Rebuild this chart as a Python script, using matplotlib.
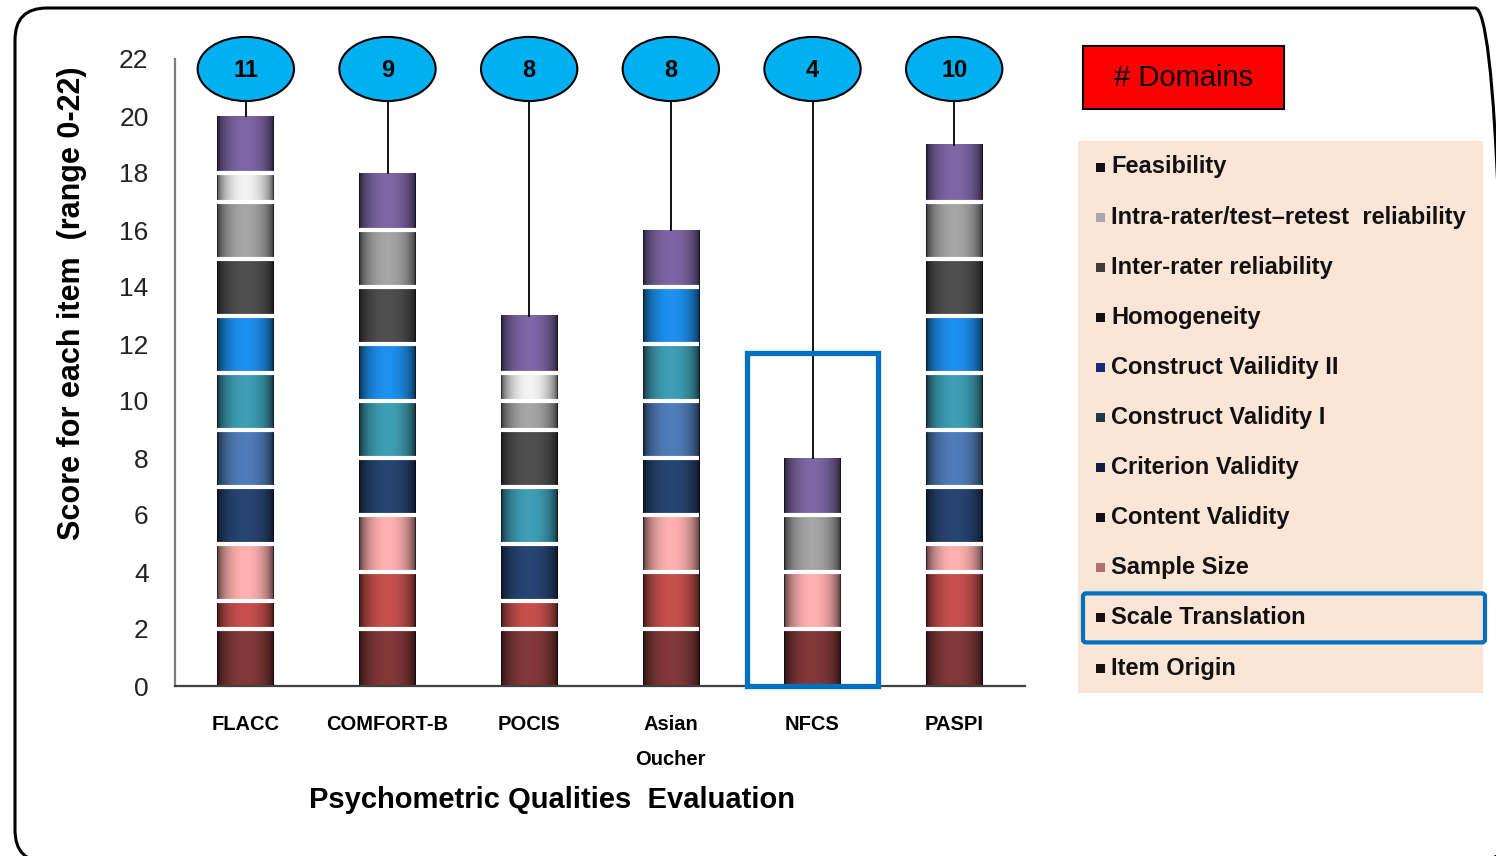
import numpy as np
import matplotlib
matplotlib.use("Agg")
import matplotlib.pyplot as plt
from matplotlib.patches import Ellipse, Rectangle, FancyBboxPatch

ARIAL = ["Liberation Sans", "DejaVu Sans"]

scales = ["FLACC", "COMFORT-B", "POCIS", "Asian\nOucher", "NFCS", "PASPI"]

# stacking order, bottom to top
domains = [
    "Item Origin",
    "Scale Translation",
    "Sample Size",
    "Content Validity",
    "Criterion Validity",
    "Construct Validity I",
    "Construct Vailidity II",
    "Homogeneity",
    "Inter-rater reliability",
    "Intra-rater/test\u2013retest  reliability",
    "Feasibility",
]

# score of each domain for each scale (same order as `scales`)
item_origin = [2, 2, 2, 2, 2, 2]
scale_translation = [1, 2, 1, 2, 0, 2]
sample_size = [2, 2, 0, 2, 2, 1]
content_validity = [2, 2, 2, 2, 0, 2]
criterion_validity = [2, 0, 0, 2, 0, 2]
construct_validity_1 = [2, 2, 2, 2, 0, 2]
construct_validity_2 = [2, 2, 0, 2, 0, 2]
homogeneity = [2, 2, 2, 0, 0, 2]
inter_rater = [2, 2, 1, 0, 2, 2]
intra_rater = [1, 0, 1, 0, 0, 0]
feasibility = [2, 2, 2, 2, 2, 2]

scores = np.array([
    item_origin, scale_translation, sample_size, content_validity,
    criterion_validity, construct_validity_1, construct_validity_2,
    homogeneity, inter_rater, intra_rater, feasibility,
], dtype=float)

seg_colors = [
    "#7a3535", "#b84a48", "#eea4a4", "#24406a", "#4a74ad", "#3a93a8",
    "#1c86de", "#4a4a4a", "#9a9a9a", "#e2e2e2", "#755f9a",
]
# legend swatches are rendered much darker than the bars
swatch_colors = [
    "#111111", "#1a1010", "#b07070", "#111111", "#141a40", "#1e3a48",
    "#1a2a70", "#111111", "#3c3c3c", "#a8a8a8", "#111111",
]

n_domains = (scores > 0).sum(axis=0)
totals = scores.sum(axis=0)

fig = plt.figure(figsize=(14.96, 8.56), dpi=100)
ax = fig.add_axes([175 / 1496, 170 / 856, 850 / 1496, 627 / 856])
x = np.arange(len(scales))
width = 0.40

# cylinder-like shading across each bar segment
u = np.linspace(0, 1, 64)
shade = 0.18 + 0.9 * np.sin(np.pi * u) ** 0.45
bottom = np.zeros(len(scales))
for d, vals in enumerate(scores):
    bars = ax.bar(x, vals, width, bottom=bottom, color="none", zorder=1)
    base = np.array(matplotlib.colors.to_rgb(seg_colors[d]))
    img = np.clip(base[None, None, :] * shade[None, :, None], 0, 1)
    for p in bars.patches:
        if p.get_height() <= 0:
            continue
        x0, y0 = p.get_x(), p.get_y()
        ax.imshow(img, extent=[x0, x0 + p.get_width(), y0, y0 + p.get_height()],
                  aspect="auto", interpolation="bilinear", zorder=2)
    bottom += vals

# white separators between stacked segments
cum = np.cumsum(scores, axis=0)
for j in range(len(scales)):
    tops = np.unique(cum[:-1, j])
    tops = tops[(tops > 0) & (tops < totals[j])]
    ax.hlines(tops, x[j] - width / 2, x[j] + width / 2, color="white", lw=3, zorder=3)

ax.set_xlim(-0.5, 5.5)
ax.set_ylim(0, 22)
ax.set_yticks(np.arange(0, 23, 2))
ax.set_xticks(x)
ax.set_xticklabels(scales, fontsize=14.5, fontweight="bold", family=ARIAL,
                   linespacing=2.05)
ax.tick_params(axis="y", length=0, pad=19, labelsize=19)
ax.tick_params(axis="x", length=0, pad=21)
for lab in ax.get_yticklabels():
    lab.set_family(ARIAL)
    lab.set_color("#222222")
for s in ("top", "right"):
    ax.spines[s].set_visible(False)
ax.spines["left"].set_color("#7f7f7f")
ax.spines["left"].set_linewidth(1.6)
ax.spines["bottom"].set_color("#404040")
ax.spines["bottom"].set_linewidth(1.6)
ax.set_ylabel("Score for each item  (range 0-22)", fontsize=22, fontweight="bold",
              family=ARIAL, va="center")
ax.yaxis.set_label_coords(-0.121, 0.61)
ax.set_xlabel("Psychometric Qualities  Evaluation", fontsize=21, fontweight="bold",
              family=ARIAL, va="center")
ax.xaxis.set_label_coords(0.4435, -0.182)

# domain count bubbles above each bar
for j in range(len(scales)):
    ax.add_patch(Ellipse((x[j], 21.65), 0.68, 2.25, facecolor="#00b0f0",
                         edgecolor="black", lw=1.5, clip_on=False, zorder=5))
    ax.text(x[j], 21.6, str(n_domains[j]), ha="center", va="center",
            fontsize=17, fontweight="bold", family=ARIAL, zorder=6, clip_on=False)
    ax.plot([x[j], x[j]], [20.52, totals[j]], color="black", lw=1.3, zorder=4,
            clip_on=False)

# highlight around NFCS
k = scales.index("NFCS")
ax.add_patch(Rectangle((x[k] - 0.46, 0), 0.92, totals[k] + 3.7, fill=False,
                       edgecolor="#0070c0", lw=3.8, zorder=6, clip_on=False))

tr = fig.dpi_scale_trans

# "# Domains" tag
fig.patches.append(Rectangle((10.83, 7.47), 2.01, 0.63, facecolor="#ff0000",
                             edgecolor="black", lw=1.5, transform=tr))
fig.text(11.835, 7.785, "# Domains", transform=tr, ha="center", va="center",
         fontsize=21, family=ARIAL)

# legend panel
fig.patches.append(Rectangle((10.78, 1.63), 4.05, 5.52, facecolor="#fbe5d6",
                             edgecolor="none", transform=tr))
for i, d in enumerate(range(len(domains) - 1, -1, -1)):
    yy = (856 - (167 + 50.1 * i)) / 100
    fig.patches.append(Rectangle((10.955, yy - 0.045), 0.09, 0.09,
                                 facecolor=swatch_colors[d], transform=tr))
    fig.text(11.11, yy, domains[d], transform=tr, ha="left", va="center",
             fontsize=17, fontweight="bold", family=ARIAL, color="#111111")

k = domains.index("Scale Translation")
yy = (856 - (167 + 50.1 * (len(domains) - 1 - k))) / 100
fig.patches.append(FancyBboxPatch((10.83, yy - 0.245), 4.02, 0.49,
                                  boxstyle="round,pad=0,rounding_size=0.03",
                                  fill=False, edgecolor="#0070c0", lw=3,
                                  transform=tr))

# rounded outer frame
fig.patches.append(FancyBboxPatch((0.15, -0.06), 14.92, 8.54,
                                  boxstyle="round,pad=0,rounding_size=0.32",
                                  fill=False, edgecolor="black", lw=2.2,
                                  transform=tr))

fig.savefig("out.png", dpi=100)
